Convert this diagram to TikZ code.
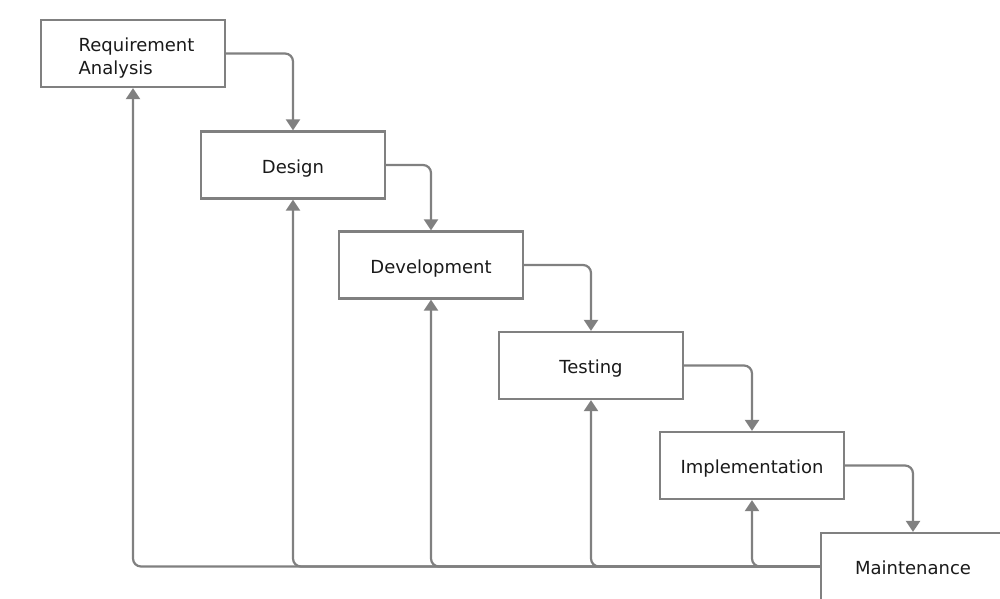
\documentclass[tikz,border=0pt]{standalone}
\usepackage{fontspec}
\setmainfont{DejaVu Sans}
\usetikzlibrary{arrows.meta}
\definecolor{lc}{HTML}{808080}
\definecolor{tc}{HTML}{1A1A1A}
\begin{document}
\begin{tikzpicture}[x=1pt,y=-1pt,
  box/.style={draw=lc,line width=2.2pt,fill=white,minimum width=184pt,minimum height=67pt,inner sep=0pt,
    text=tc,font=\fontsize{18}{22.5}\selectfont,text height=18pt,text depth=2pt},
  arr/.style={draw=lc,line width=2.2pt,rounded corners=8pt,-{Triangle[width=14pt,length=11pt]}}]
\useasboundingbox (0,0) rectangle (1000,598);
\clip (0,0) rectangle (1000,598);
\fill[white] (0,0) rectangle (1000,598);
\node[box,align=left,text height=44pt,text depth=3pt] (ra) at (133,53.5) {\hspace*{7pt}Requirement\\\hspace*{7pt}Analysis};
\node[box] (de) at (293,165) {Design};
\node[box] (dv) at (431,265) {Development};
\node[box] (te) at (591,365.5) {Testing};
\node[box] (im) at (752,465.5) {Implementation};
\node[box] (ma) at (913,566.5) {Maintenance};
\draw[arr] (ra.east) -| (de.north);
\draw[arr] (de.east) -| (dv.north);
\draw[arr] (dv.east) -| (te.north);
\draw[arr] (te.east) -| (im.north);
\draw[arr] (im.east) -| (ma.north);
\coordinate (mw) at (ma.west);
\draw[arr] (mw) -| (ra.south);
\draw[arr] (mw) -| (de.south);
\draw[arr] (mw) -| (dv.south);
\draw[arr] (mw) -| (te.south);
\draw[arr] (mw) -| (im.south);
\end{tikzpicture}
\end{document}
